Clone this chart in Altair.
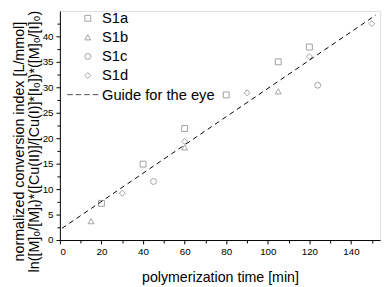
import altair as alt
import pandas as pd

# ---- data ----
s1a_x = [20, 40, 60, 80, 105, 120]
s1a_y = [7.2, 14.9, 21.9, 28.5, 35.0, 37.9]
s1b_x = [15, 60, 105]
s1b_y = [3.7, 18.2, 29.2]
s1c_x = [45, 124]
s1c_y = [11.5, 30.4]
s1d_x = [30, 60, 90, 120, 150]
s1d_y = [9.2, 19.4, 28.9, 36.0, 42.5]
guide_x = [1, 152]
guide_y = [2.3, 44.2]

series_names = ["S1a", "S1b", "S1c", "S1d", "Guide for the eye"]
x_ticks = list(range(0, 151, 10))
y_ticks = [i * 2.5 for i in range(0, 18)]

rows = []
for name, xs, ys in [("S1a", s1a_x, s1a_y), ("S1b", s1b_x, s1b_y),
                     ("S1c", s1c_x, s1c_y), ("S1d", s1d_x, s1d_y)]:
    for a, b in zip(xs, ys):
        rows.append({"t": a, "v": b, "series": name})
points_df = pd.DataFrame(rows)
guide_df = pd.DataFrame({"t": guide_x, "v": guide_y, "series": ["Guide for the eye"] * 2})

FONT = "Liberation Sans"
gray = "#7a7a7a"

dash_path = "M-7,0H-5.1M-4.1,0H-2.23M-1.23,0H0.67M1.67,0H3.57"

color_scale = alt.Scale(domain=series_names, range=[gray, gray, gray, gray, "#000000"])
shape_scale = alt.Scale(domain=series_names,
                        range=["square", "triangle-up", "circle", "diamond", dash_path])

legend = alt.Legend(title=None, orient="none", legendX=21, legendY=0,
                    labelFont=FONT, labelFontSize=15, labelColor="#000",
                    symbolSize=36, symbolFillColor="transparent", symbolStrokeWidth=1,
                    labelOffset=7, rowPadding=3.5, padding=0)

x_axis = alt.Axis(values=x_ticks, labelExpr="datum.value % 20 === 0 ? datum.label : ''",
                  tickSize={"condition": {"test": "datum.value % 20 === 0", "value": 4}, "value": 3},
                  tickColor="#000", domainColor="#000", grid=False,
                  labelFont=FONT, labelFontSize=10, labelColor="#000", labelPadding=3,
                  title="polymerization time [min]", titleFont=FONT, titleFontSize=14.5,
                  titleFontWeight="normal", titleColor="#000", titlePadding=14)

y_axis = alt.Axis(values=y_ticks, labelExpr="datum.value % 5 === 0 ? datum.label : ''",
                  tickSize={"condition": {"test": "datum.value % 5 === 0", "value": 4}, "value": 3},
                  tickColor="#000", domainColor="#000", grid=False,
                  labelFont=FONT, labelFontSize=10, labelColor="#000", labelPadding=3,
                  title=["normalized conversion index [L/mmol]",
                         "ln([M]\u2080/[M]\u209c)*([Cu(II)]/[Cu(I)]*[I\u2080])*([M]\u2080/[I]\u2080)"],
                  titleFont=FONT, titleFontSize=14.6, titleFontWeight="normal", titleColor="#000",
                  titleAngle=270, titleAlign="center", titleBaseline="middle",
                  titleLineHeight=15, titleX=-41, titleY=133)

xs = alt.X("t:Q", scale=alt.Scale(domain=[0, 154], nice=False, zero=False), axis=x_axis)
ys = alt.Y("v:Q", scale=alt.Scale(domain=[0, 45], nice=False, zero=False), axis=y_axis)

pts = alt.Chart(points_df).mark_point(filled=False, size=36, strokeWidth=1).encode(
    x=xs, y=ys,
    color=alt.Color("series:N", scale=color_scale, legend=legend),
    shape=alt.Shape("series:N", scale=shape_scale, legend=legend),
)

line = alt.Chart(guide_df).mark_line(strokeDash=[5, 4], strokeWidth=1).encode(
    x=xs, y=ys,
    color=alt.Color("series:N", scale=color_scale, legend=legend),
)

chart = alt.layer(pts, line).properties(
    width=327, height=234,
    autosize=alt.AutoSizeParams(type="none"),
    padding={"left": 53, "top": 0, "right": 4, "bottom": 45},
).configure_view(stroke="#000", strokeWidth=1).configure(background="white")

chart.save("out.html", embed_options={"renderer": "svg", "actions": False})
